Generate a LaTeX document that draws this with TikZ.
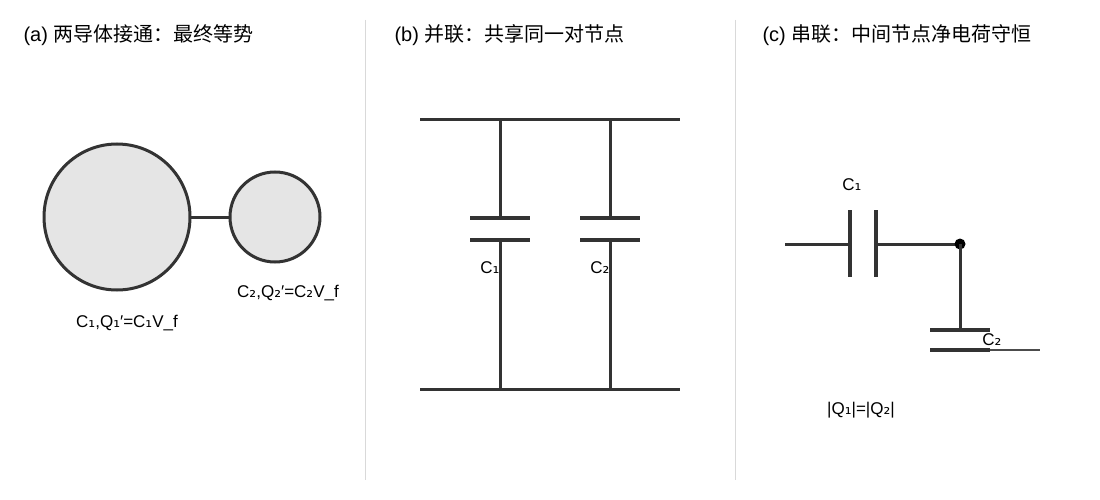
\documentclass[tikz,border=0pt]{standalone}
\usepackage{fontspec}
\setmainfont{Liberation Sans}
\newfontfamily\cjk{Noto Sans CJK SC}
\newfontfamily\dvs{DejaVu Sans}
\newcommand{\subone}{{\dvs ₁}}
\newcommand{\subtwo}{{\dvs ₂}}
\begin{document}
\begin{tikzpicture}[x=1pt,y=-1pt,
  wire/.style={draw=black!80,line width=3pt},
  plate/.style={draw=black!80,line width=4pt},
  ball/.style={draw=black!80,line width=3pt,fill=gray!20},
  title/.style={anchor=west,font=\fontsize{20}{22}\selectfont},
  lab/.style={font=\fontsize{17}{19}\selectfont},
  divider/.style={draw=gray!30,line width=1pt}]
\useasboundingbox (0,0) rectangle (1100,500);
\fill[white] (0,0) rectangle (1100,500);
\node[title] (ta) at (20,35) {(a) {\cjk 两导体接通：最终等势}};
\node[title] (tb) at (391,35) {(b) {\cjk 并联：共享同一对节点}};
\node[title] (tc) at (759,35) {(c) {\cjk 串联：中间节点净电荷守恒}};
\coordinate (d1a) at (365,20); \coordinate (d1b) at (365,480);
\coordinate (d2a) at (735,20); \coordinate (d2b) at (735,480);
\draw[divider] (d1a) -- (d1b); \draw[divider] (d2a) -- (d2b);
% (a)
\draw[wire] (190,217) -- (230,217);
\node[ball,circle,minimum size=146pt,inner sep=0] (big) at (117,217) {};
\node[ball,circle,minimum size=90pt,inner sep=0] (small) at (275,217) {};
\node[lab] (l2) at (288,293) {C\subtwo,Q\subtwo′=C\subtwo V\_f};
\node[lab] (l1) at (127,323) {C\subone,Q\subone′=C\subone V\_f};
% (b)
\coordinate (t1) at (420,120); \coordinate (t2) at (680,120);
\coordinate (b1) at (420,389); \coordinate (b2) at (680,389);
\draw[wire] (t1) -- (t2); \draw[wire] (b1) -- (b2);
\foreach \x/\s in {500/\subone,610/\subtwo}{
  \draw[wire] (\x,120) -- (\x,218);
  \draw[wire] (\x,240) -- (\x,389);
  \draw[plate] (\x-30,218) -- (\x+30,218);
  \draw[plate] (\x-30,240) -- (\x+30,240);
  \node[lab] at (\x-10,268) {C\s};
}
% (c)
\coordinate (in) at (785,244);
\coordinate (n) at (960,244);
\draw[wire] (in) -- (850,244);
\draw[plate] (850,210) -- (850,277);
\draw[plate] (876,210) -- (876,277);
\draw[wire] (876,244) -- (n);
\fill[black] (n) circle (5.5);
\draw[wire] (n) -- (960,330);
\draw[plate] (930,330) -- (990,330);
\draw[plate] (930,350) -- (990,350);
\draw[draw=black!70,line width=2.5pt] (990,350) -- (1040,350);
\node[lab] (c1) at (852,185) {C\subone};
\node[lab] (c2) at (992,340) {C\subtwo};
\node[lab] (q) at (861,410) {|Q\subone|=|Q\subtwo|};
\end{tikzpicture}
\end{document}
